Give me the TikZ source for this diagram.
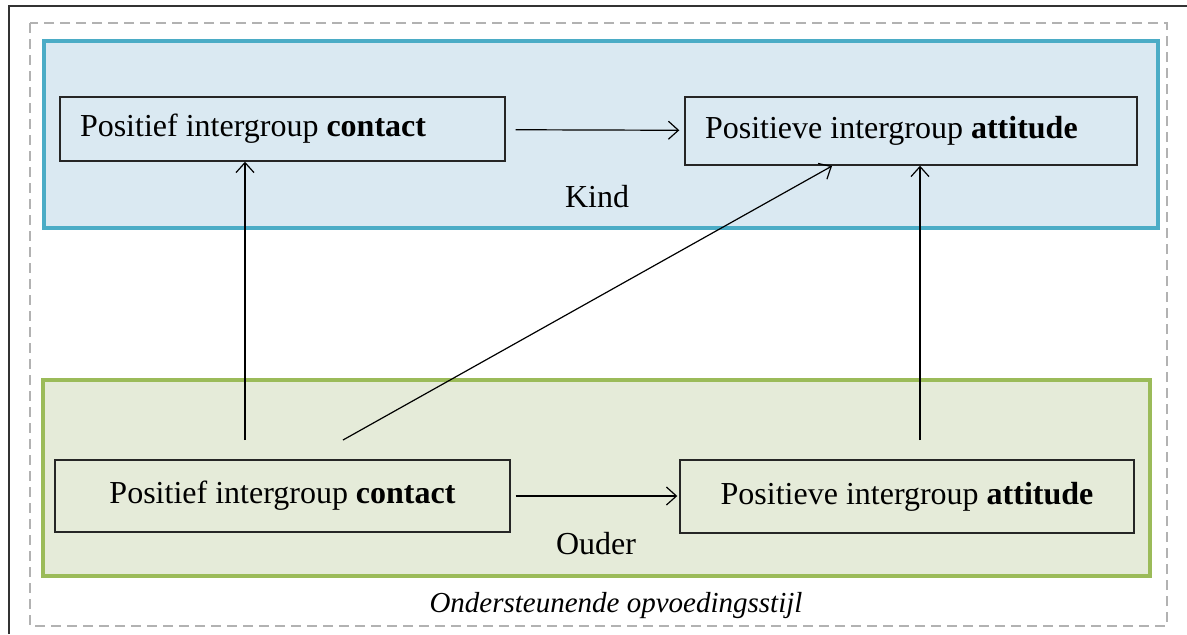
\documentclass[tikz,border=0pt]{standalone}
\usepackage{fontspec}
\setmainfont{Liberation Serif}
\usetikzlibrary{positioning, arrows.meta}

\definecolor{kindrand}{HTML}{4BACC6}
\definecolor{kindvul}{HTML}{DAE9F2}
\definecolor{ouderrand}{HTML}{9BBB59}
\definecolor{oudervul}{HTML}{E5EBD9}

\tikzset{
	varbox/.style={draw=black!85, line width=0.7pt, inner ysep=0pt, font=\fontsize{16}{18}\selectfont},
	kindbox/.style={varbox, align=flush left, inner xsep=10pt},
	ouderbox/.style={varbox, align=center, inner xsep=0pt},
	pijl/.style={-{Straight Barb[length=5pt, width=9pt]}, line width=0.6pt},
	label/.style={font=\fontsize{16}{18}\selectfont},
}

\begin{document}
\begin{tikzpicture}[x=0.5pt, y=-0.5pt]
		\useasboundingbox (0,0) rectangle (1187,634);
		\draw [black!80, line width=1pt] (9,634) -- (9,6) -- (1187,6);
		\draw [black!30, line width=0.7pt, dash pattern=on 5pt off 3pt] (30,23) rectangle (1167,626);
		\draw [draw=kindrand, fill=kindvul, line width=2pt] (44,41) rectangle (1158,228);
		\draw [draw=ouderrand, fill=oudervul, line width=2pt] (43,380) rectangle (1150,576);

		\node [kindbox, text width=202.5pt, minimum height=32pt] (KC) at (282.5,129) {Positief intergroup \textbf{contact}};
		\node [kindbox, text width=206pt, minimum height=34pt] (KA) at (911,131) {Positieve intergroup \textbf{attitude}};
		\node [label] (Kind) at (597,197) {Kind};

		\node [ouderbox, minimum width=227.5pt, minimum height=36pt] (OC) at (282.5,496) {Positief intergroup \textbf{contact}};
		\node [ouderbox, minimum width=227pt, minimum height=36.5pt] (OA) at (907,496.5) {Positieve intergroup \textbf{attitude}};
		\node [label] (Ouder) at (596,544) {Ouder};

		\node [label, font=\itshape\fontsize{14.5}{16}\selectfont] (Stijl) at (616,606) {Ondersteunende opvoedingsstijl};

		\coordinate (S1) at (245,440);
		\coordinate (S2) at (343,440);
		\coordinate (E2) at (832,166);
		\coordinate (S3) at (920,440);

		\draw [pijl, shorten <=5pt, shorten >=2.5pt] (KC) -- (KA);
		\draw [pijl, shorten <=2.5pt, shorten >=1pt] (OC.east) -- (OA.west |- OC.east);
		\draw [pijl] (S1) -- (S1 |- KC.south);
		\draw [pijl] (S2) -- (E2);
		\draw [pijl] (S3) -- (S3 |- KA.south);
	\end{tikzpicture}
\end{document}
